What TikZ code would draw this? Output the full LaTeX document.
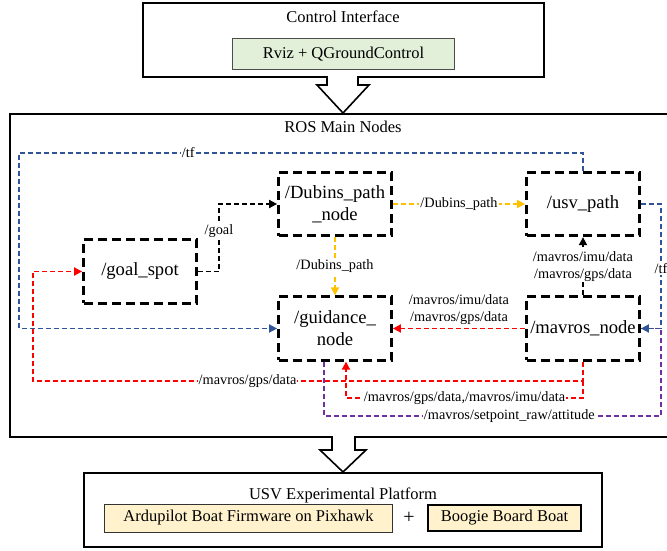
\documentclass[tikz,border=0pt]{standalone}
\usepackage{fontspec}
\setmainfont{Liberation Serif}
\usetikzlibrary{arrows.meta}
\definecolor{tfblue}{RGB}{47,85,151}
\definecolor{gold}{RGB}{255,192,0}
\definecolor{purp}{RGB}{112,48,160}
\definecolor{greenfill}{RGB}{226,240,217}
\definecolor{peach}{RGB}{255,242,204}
\begin{document}
\begin{tikzpicture}[x=1pt,y=-1pt,
  rosnode/.style={draw, line width=2.8pt, dash pattern=on 9pt off 5pt, minimum width=113pt, minimum height=63.5pt, align=center, font=\fontsize{18.6}{22}\selectfont, inner sep=0pt},
  conn/.style={line width=1.8pt, dash pattern=on 5pt off 3pt, -{Triangle[length=8pt,width=8pt]}},
  plain/.style={line width=1.8pt, dash pattern=on 5pt off 3pt},
  lbl/.style={fill=white, text=black, inner sep=1pt, font=\fontsize{14.3}{17}\selectfont},
  lblnb/.style={text=black, inner sep=1pt, font=\fontsize{14.3}{17}\selectfont, align=center},
  head/.style={font=\fontsize{16.5}{19}\selectfont},
  hollow/.style={draw=black, line width=1.6pt, fill=white, line join=miter},
]
\useasboundingbox (0,0) rectangle (667,551);

% outer frames
\node[draw, line width=2.4pt, minimum width=401pt, minimum height=74pt, inner sep=0pt] (ctrl) at (343.5,40) {};
\node[draw, line width=2.4pt, minimum width=700pt, minimum height=323pt, inner sep=0pt] (ros) at (360,275.5) {};
\node[draw, line width=1.6pt, minimum width=518pt, minimum height=74.5pt, inner sep=0pt] (usv) at (343,510) {};

\node[head] (ctrltitle) at (343,17) {Control Interface};
\node[draw=black!70, line width=0.8pt, fill=greenfill, minimum width=222pt, minimum height=31pt, inner sep=0pt, head] (rviz) at (343.5,54) {Rviz + QGroundControl};
\node[head] (rostitle) at (343,127) {ROS Main Nodes};
\node[head] (usvtitle) at (343,495) {USV Experimental Platform};
\node[draw=black!80, line width=0.9pt, fill=peach, minimum width=288pt, minimum height=28pt, inner sep=0pt, head] (ardu) at (248.5,518) {Ardupilot Boat Firmware on Pixhawk};
\node[font=\fontsize{20}{20}\selectfont] (plus) at (409,518) {+};
\node[draw, line width=2.2pt, fill=peach, minimum width=153pt, minimum height=26pt, inner sep=0pt, head] (boogie) at (504.5,518) {Boogie Board Boat};

% hollow arrows
\fill[white] (328,75) rectangle (357,86);
\draw[hollow] (327,78) -- (327,85) -- (317,85) -- (343,113) -- (369,85) -- (358,85) -- (358,78);
\fill[white] (333,435) rectangle (354,451);
\draw[hollow] (332,438) -- (332,450) -- (320,450) -- (343,472) -- (366,450) -- (355,450) -- (355,438);

% ROS nodes
\node[rosnode] (goal) at (140,271.5) {/goal\_spot};
\node[rosnode] (dubins) at (335,204) {/Dubins\_path\\\_node};
\node[rosnode] (usvpath) at (583,204) {/usv\_path};
\node[rosnode] (guid) at (335,328.5) {/guidance\_\\node};
\node[rosnode] (mav) at (583,328.5) {/mavros\_node};

% /tf (top)
\draw[conn, tfblue] (usvpath.north) -- (583,153) -- node[lbl, pos=0.70] {/tf} (19,153) |- (guid.west);
% setpoint_raw/attitude
\draw[plain, purp] ([xshift=-11pt]guid.south) -- (324,416) -- node[lbl, pos=0.55] {/mavros/setpoint\_raw/attitude} (661,416) -- (661,328.5) -- (mav.east);
% /tf (right)
\draw[conn, tfblue] (usvpath.east) -- (661,204) -- node[lbl, pos=0.52] {/tf} (661,328.5) -- (mav.east);

% /goal
\draw[conn, black] (goal.east) -- (219,271.5) -- node[lbl, pos=0.6] {/goal} (219,204) -- (dubins.west);

% Dubins_path
\draw[conn, gold] (dubins.east) -- node[lbl] {/Dubins\_path} (usvpath.west);
\draw[conn, gold] (dubins.south) -- node[lbl, pos=0.5] {/Dubins\_path} (guid.north);

% mavros -> usv_path
\draw[conn, black] (mav.north) -- node[lbl, align=center, font=\fontsize{14.3}{17}\selectfont] {/mavros/imu/data\\/mavros/gps/data} (usvpath.south);

% mavros -> guidance
\draw[conn, red] (mav.west) -- node[lblnb, above=2pt] {/mavros/imu/data\\/mavros/gps/data} (guid.west -| guid.east);

% mavros -> goal_spot
\draw[conn, red] (mav.south) -- (583,381) -- node[lbl, pos=0.61] {/mavros/gps/data} (33,381) |- (goal.west);
% mavros -> guidance bottom
\draw[conn, red] (583,381) -- (583,398) -- node[lbl, pos=0.5] {/mavros/gps/data,/mavros/imu/data} (346,398) -- ([xshift=11pt]guid.south);
\end{tikzpicture}
\end{document}
